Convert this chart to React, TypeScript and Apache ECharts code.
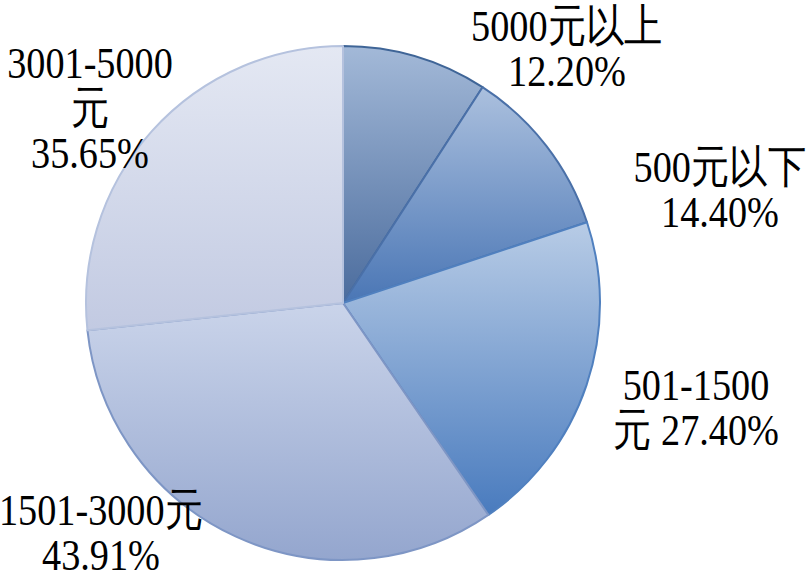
import React, { useEffect, useRef } from "react";
import * as echarts from "echarts";

const categories = ["5000元以上", "500元以下", "501-1500元", "1501-3000元", "3001-5000元"];
const values = [12.2, 14.4, 27.4, 43.91, 35.65];
const labelLines = [
  ["5000元以上", "12.20%"],
  ["500元以下", "14.40%"],
  ["501-1500", "元 27.40%"],
  ["1501-3000元", "43.91%"],
  ["3001-5000", "元", "35.65%"],
];

const sliceTop = ["#A3B9D8", "#ABC0DE", "#B8CCE6", "#CAD4EA", "#E4E8F3"];
const sliceBottom = ["#4B6C9D", "#4A76B5", "#497BBE", "#94A6CE", "#C2CAE2"];
const sliceBorder = ["#3F6597", "#4A70A8", "#5080BF", "#7E96C5", "#B5C2DE"];
const labelPos = [
  [567, 3],
  [720, 144],
  [696, 362],
  [101, 487],
  [90, 40],
];

export default function App() {
  const ref = useRef<HTMLDivElement>(null);
  useEffect(() => {
    const chart = echarts.init(ref.current!, null, { renderer: "svg" });
    const option = {
      animation: false,
      backgroundColor: "#ffffff",
      series: [
        {
          type: "pie",
          center: [343, 303],
          radius: 257,
          startAngle: 90,
          clockwise: true,
          z: 1,
          label: { show: false },
          labelLine: { show: false },
          emphasis: { disabled: true },
          data: categories.map((name, i) => ({
            name,
            value: values[i],
            itemStyle: {
              color: new echarts.graphic.LinearGradient(0, 0, 0, 1, [
                { offset: 0, color: sliceTop[i] },
                { offset: 1, color: sliceBottom[i] },
              ]),
              borderColor: sliceBorder[i],
              borderWidth: 2,
            },
          })),
        },
      ],
      graphic: labelLines.map((lines, i) => ({
        type: "text",
        x: labelPos[i][0],
        y: labelPos[i][1],
        scaleX: 0.85,
        z: 100,
        zlevel: 0,
        style: {
          text: lines.join("\n"),
          fontFamily: "'Liberation Serif', 'Times New Roman', serif",
          fontSize: 45,
          lineHeight: 45,
          fill: "#000000",
          textAlign: "center",
          textVerticalAlign: "top",
        },
      })),
    };
    chart.setOption(option as any);
    return () => chart.dispose();
  }, []);
  return (
    <div
      ref={ref}
      style={{ position: "absolute", left: 0, top: 0, width: 810, height: 578 }}
    />
  );
}
